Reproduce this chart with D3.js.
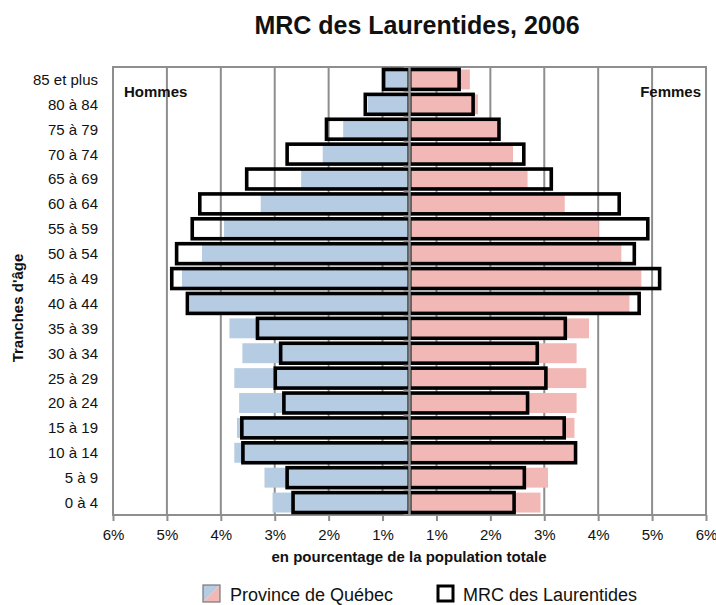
<!DOCTYPE html>
<html><head><meta charset="utf-8">
<script src="https://cdn.jsdelivr.net/npm/d3@7/dist/d3.min.js"></script>
<style>
html,body{margin:0;padding:0;background:#fff;}
svg{display:block;}
text{font-family:"Liberation Sans Narrow","Arial Narrow","Liberation Sans",Arial,sans-serif;fill:#111;}
</style></head>
<body>
<svg id="c" width="716" height="605"></svg>
<script>
const ageGroups = ["85 et plus","80 à 84","75 à 79","70 à 74","65 à 69","60 à 64","55 à 59","50 à 54","45 à 49","40 à 44","35 à 39","30 à 34","25 à 29","20 à 24","15 à 19","10 à 14","5 à 9","0 à 4"];
const quebecHommes = [0.45,0.77,1.23,1.61,2.01,2.76,3.44,3.85,4.22,4.08,3.34,3.10,3.25,3.16,3.20,3.25,2.69,2.54];
const quebecFemmes = [1.12,1.27,1.63,1.92,2.19,2.88,3.51,3.93,4.30,4.08,3.33,3.10,3.28,3.10,3.06,3.05,2.57,2.43];
const mrcHommes = [0.48,0.82,1.54,2.27,3.02,3.89,4.03,4.32,4.41,4.12,2.82,2.39,2.49,2.33,3.11,3.09,2.27,2.16];
const mrcFemmes = [0.92,1.18,1.66,2.12,2.63,3.89,4.42,4.17,4.64,4.26,2.89,2.37,2.53,2.19,2.87,3.08,2.13,1.94];
const gridValues = [-5.5,-4.5,-3.5,-2.5,-1.5,-0.5,0.5,1.5,2.5,3.5,4.5,5.5];
const tickLabels = ["6%","5%","4%","3%","2%","1%","1%","2%","3%","4%","5%","6%"];
const title = "MRC des Laurentides, 2006";
const legendLabels = ["Province de Québec","MRC des Laurentides"];

const blue = "#b5cce3", pink = "#f2b8b5", gridCol = "#8e8e8e";
const svg = d3.select("#c");
const L = 113, R = 706, T = 67, B = 515;
const x = d3.scaleLinear().domain([-5.5,5.5]).range([L,R]);
const y = d3.scaleBand().domain(ageGroups).range([T,B]).paddingInner(0.2).paddingOuter(0.1);

// gridlines
svg.append("g").selectAll("line").data(gridValues).join("line")
  .attr("x1",d=>x(d)).attr("x2",d=>x(d)).attr("y1",T).attr("y2",B)
  .attr("stroke",gridCol).attr("stroke-width",2);
// frame
svg.append("rect").attr("x",L).attr("y",T).attr("width",R-L).attr("height",B-T)
  .attr("fill","none").attr("stroke",gridCol).attr("stroke-width",2);

// bottom axis
const xAxis = d3.axisBottom(x).tickValues(gridValues).tickSize(6).tickPadding(8)
  .tickFormat((d,i)=>tickLabels[i]);
const gx = svg.append("g").attr("transform",`translate(0,${B})`).call(xAxis);
gx.select(".domain").remove();
gx.selectAll(".tick line").attr("stroke",gridCol).attr("stroke-width",2);
gx.selectAll(".tick text").attr("font-size",15).attr("fill","#111");

// province bars
const rows = ageGroups.map((a,i)=>({a,qh:quebecHommes[i],qf:quebecFemmes[i],mh:mrcHommes[i],mf:mrcFemmes[i]}));
svg.append("g").selectAll("rect").data(rows).join("rect")
  .attr("x",d=>x(-d.qh)).attr("width",d=>x(0)-x(-d.qh))
  .attr("y",d=>y(d.a)).attr("height",y.bandwidth()).attr("fill",blue);
svg.append("g").selectAll("rect").data(rows).join("rect")
  .attr("x",x(0)).attr("width",d=>x(d.qf)-x(0))
  .attr("y",d=>y(d.a)).attr("height",y.bandwidth()).attr("fill",pink);
// MRC outlines
svg.append("g").selectAll("rect").data(rows).join("rect")
  .attr("x",d=>x(-d.mh)).attr("width",d=>x(0)-x(-d.mh))
  .attr("y",d=>y(d.a)).attr("height",y.bandwidth())
  .attr("fill","none").attr("stroke","#000").attr("stroke-width",3.6);
svg.append("g").selectAll("rect").data(rows).join("rect")
  .attr("x",x(0)).attr("width",d=>x(d.mf)-x(0))
  .attr("y",d=>y(d.a)).attr("height",y.bandwidth())
  .attr("fill","none").attr("stroke","#000").attr("stroke-width",3.6);

// center axis
const bounds = d3.range(ageGroups.length+1).map(i=>T+i*(B-T)/ageGroups.length);
svg.append("line").attr("x1",x(0)).attr("x2",x(0)).attr("y1",T).attr("y2",B)
  .attr("stroke",gridCol).attr("stroke-width",2.5);
svg.append("g").selectAll("line").data(bounds).join("line")
  .attr("x1",x(0)-6).attr("x2",x(0)).attr("y1",d=>d).attr("y2",d=>d)
  .attr("stroke",gridCol).attr("stroke-width",2);

// y labels
svg.append("g").selectAll("text").data(ageGroups).join("text")
  .attr("x",98).attr("y",d=>y(d)+y.bandwidth()/2).attr("dy","0.36em")
  .attr("text-anchor","end").attr("font-size",15).text(d=>d);

// texts
svg.append("text").attr("x",417).attr("y",34).attr("text-anchor","middle")
  .attr("font-size",25).attr("font-weight","bold").text(title);
svg.append("text").attr("x",124).attr("y",97).attr("font-size",15).attr("font-weight","bold").text("Hommes");
svg.append("text").attr("x",701).attr("y",97).attr("text-anchor","end").attr("font-size",15).attr("font-weight","bold").text("Femmes");
svg.append("text").attr("x",409).attr("y",562).attr("text-anchor","middle").attr("font-size",15).attr("font-weight","bold")
  .text("en pourcentage de la population totale");
svg.append("text").attr("transform","translate(23,308) rotate(-90)").attr("text-anchor","middle")
  .attr("font-size",15).attr("font-weight","bold").text("Tranches d'âge");

// legend
const lg = svg.append("g");
lg.append("path").attr("d","M203,585 L220,585 L203,602 Z").attr("fill",blue);
lg.append("path").attr("d","M220,585 L220,602 L203,602 Z").attr("fill",pink);
lg.append("rect").attr("x",203).attr("y",585).attr("width",17).attr("height",17).attr("fill","none").attr("stroke","#777").attr("stroke-width",1.2);
lg.append("text").attr("x",230).attr("y",601).attr("font-size",18).text(legendLabels[0]);
lg.append("rect").attr("x",438).attr("y",586).attr("width",15).attr("height",15).attr("fill","none").attr("stroke","#000").attr("stroke-width",3);
lg.append("text").attr("x",463).attr("y",601).attr("font-size",18).text(legendLabels[1]);
</script>
</body></html>
